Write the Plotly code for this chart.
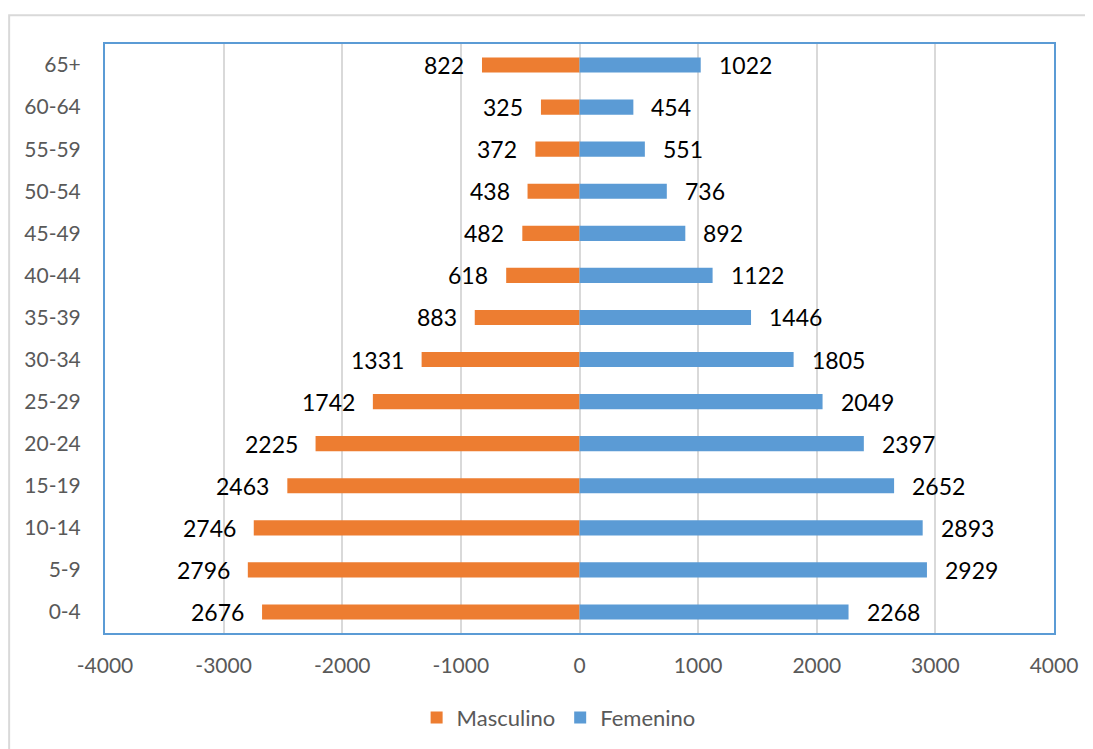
import plotly.graph_objects as go

age_groups = ["0-4", "5-9", "10-14", "15-19", "20-24", "25-29", "30-34",
              "35-39", "40-44", "45-49", "50-54", "55-59", "60-64", "65+"]
masculino = [2676, 2796, 2746, 2463, 2225, 1742, 1331, 883, 618, 482, 438, 372, 325, 822]
femenino = [2268, 2929, 2893, 2652, 2397, 2049, 1805, 1446, 1122, 892, 736, 551, 454, 1022]
x_ticks = [-4000, -3000, -2000, -1000, 0, 1000, 2000, 3000, 4000]

ORANGE = "#ED7D31"
BLUE = "#5B9BD5"
FONT = "Lato, Open Sans, sans-serif"

fig = go.Figure()
fig.add_trace(go.Bar(
    y=age_groups, x=[-v for v in masculino], orientation="h",
    name="Masculino", marker=dict(color=ORANGE, line=dict(width=0)), width=0.36,
    hoverinfo="skip",
))
fig.add_trace(go.Bar(
    y=age_groups, x=femenino, orientation="h",
    name="Femenino", marker=dict(color=BLUE, line=dict(width=0)), width=0.36,
    hoverinfo="skip",
))

for cat, v in zip(age_groups, masculino):
    fig.add_annotation(x=-v, y=cat, text=str(v), showarrow=False,
                       xanchor="right", xshift=-16, yshift=0,
                       font=dict(family=FONT, size=23, color="#000000"))
for cat, v in zip(age_groups, femenino):
    fig.add_annotation(x=v, y=cat, text=str(v), showarrow=False,
                       xanchor="left", xshift=16, yshift=0,
                       font=dict(family=FONT, size=23, color="#000000"))

# outer chart-area border (only top and left visible in reference)
fig.add_shape(type="rect", xref="paper", yref="paper",
              x0=-0.101, x1=1.2, y0=-0.6, y1=1.049,
              line=dict(color="#D9D9D9", width=2), layer="below")

fig.update_layout(
    width=1093, height=749,
    margin=dict(l=97, r=47, t=36, b=124),
    paper_bgcolor="white", plot_bgcolor="white",
    barmode="relative",
    font=dict(family=FONT, size=20, color="#595959"),
    showlegend=True,
    legend=dict(orientation="h", x=0.478, xanchor="center", y=-0.144, yanchor="middle",
                font=dict(family=FONT, size=22, color="#595959"),
                itemwidth=30, traceorder="normal"),
    xaxis=dict(range=[-4000, 4000], tickvals=x_ticks,
               ticktext=[str(t) for t in x_ticks],
               showgrid=True, gridcolor="#D9D9D9", gridwidth=1.5,
               zeroline=False, showline=True, linecolor=BLUE, linewidth=2,
               mirror=True, ticks="", ticklabelstandoff=13,
               tickfont=dict(family=FONT, size=21, color="#595959"),
               fixedrange=True),
    yaxis=dict(categoryorder="array", categoryarray=age_groups,
               showgrid=False, zeroline=False, showline=True, linecolor=BLUE,
               linewidth=2, mirror=True, ticks="", ticklabelstandoff=18,
               tickfont=dict(family=FONT, size=21, color="#595959"),
               fixedrange=True),
)

fig.write_html("out.html")
